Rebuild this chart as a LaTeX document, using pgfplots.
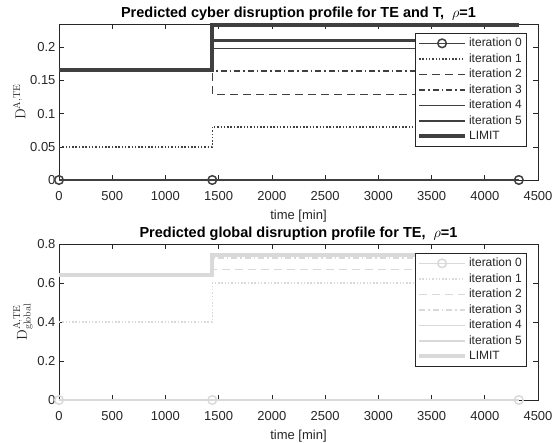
\documentclass[border=0pt]{standalone}
\usepackage[no-math]{fontspec}
\setmainfont{Liberation Sans}
\setsansfont{Liberation Sans}
\usepackage{pgfplots}
\pgfplotsset{compat=1.18}
\definecolor{axc}{RGB}{38,38,38}
\definecolor{dk}{RGB}{64,64,64}
\definecolor{lt}{RGB}{217,217,217}

\tikzset{
  it0/.style={line width=1.5pt, mark=o, mark size=4.3pt, mark options={solid, line width=1.5pt}},
  it1/.style={line width=1.5pt, dash pattern=on 1.5pt off 1.8pt},
  it2/.style={line width=1.5pt, dash pattern=on 8pt off 5pt},
  it3/.style={line width=1.5pt, dash pattern=on 6pt off 3pt on 1.5pt off 3pt},
  it4/.style={line width=1.6pt},
  it5/.style={line width=2.6pt},
  itL/.style={line width=4pt},
}

\pgfplotsset{
  legend image code/.code={\draw[mark repeat=2,mark phase=2,#1] plot coordinates {(0pt,0pt)(23pt,0pt)(46pt,0pt)};},
  mat/.style={
    scale only axis, width=479pt, height=156pt,
    xmin=0, xmax=4500, clip=false,
    axis line style={axc, line width=0.6pt},
    tick style={axc, line width=0.6pt},
    tick align=inside, major tick length=4.8pt,
    xtick={0,500,...,4500},
    xticklabels={0,500,1000,1500,2000,2500,3000,3500,4000,4500},
    ticklabel style={font=\fontsize{13}{15}\selectfont, text=axc},
    xticklabel style={yshift=-8pt},
    /pgf/number format/assume math mode=true,
    xlabel={time [min]},
    label style={font=\fontsize{13}{15}\selectfont, text=axc},
    xlabel style={yshift=-2pt},
    ylabel style={yshift=-2pt, font=\fontsize{14}{16}\selectfont},
    title style={font=\fontsize{14.5}{17}\selectfont\bfseries, text=black, yshift=-6pt},
    legend cell align=left,
    legend style={at={(0.975,0.94)}, anchor=north east, draw=axc, line width=0.5pt,
      fill=white, font=\fontsize{12}{14}\selectfont, inner xsep=2pt, inner ysep=2pt,
      nodes={inner sep=2pt, text height=9pt, text depth=2.5pt, text=axc}},
    const plot,
  },
}

\begin{document}
\begin{tikzpicture}
\begin{axis}[mat, at={(0pt,0pt)}, anchor=south west,
  ymin=0, ymax=0.235,
  ytick={0,0.05,0.1,0.15,0.2},
  yticklabels={0,0.05,0.1,0.15,0.2},
  ylabel={$\mathrm{D}^{\mathrm{A,TE}}$},
  title={Predicted cyber disruption profile for TE and T,\ \ $\rho$=1}]
\addplot[dk, it0] coordinates {(0,0) (1440,0) (4320,0)};
\addplot[dk, it1] coordinates {(0,0.05) (1440,0.08) (4320,0.08)};
\addplot[dk, it2] coordinates {(0,0.165) (1440,0.129) (4320,0.129)};
\addplot[dk, it3] coordinates {(0,0.165) (1440,0.1645) (4320,0.1645)};
\addplot[dk, it4] coordinates {(0,0.165) (1440,0.198) (4320,0.198)};
\addplot[dk, it5] coordinates {(0,0.165) (1440,0.210) (4320,0.210)};
\addplot[dk, itL] coordinates {(0,0.165) (1440,0.234) (4320,0.234)};
\legend{iteration 0, iteration 1, iteration 2, iteration 3, iteration 4, iteration 5, LIMIT}
\end{axis}

\begin{axis}[mat, at={(0pt,-220pt)}, anchor=south west,
  ymin=0, ymax=0.8,
  ytick={0,0.2,0.4,0.6,0.8},
  yticklabels={0,0.2,0.4,0.6,0.8},
  ylabel={$\mathrm{D}^{\mathrm{A,TE}}_{\mathrm{global}}$},
  title={Predicted global disruption profile for TE,\ \ $\rho$=1}]
\addplot[lt, it0] coordinates {(0,0) (1440,0) (4320,0)};
\addplot[lt, it1] coordinates {(0,0.4) (1440,0.6) (4320,0.6)};
\addplot[lt, it2] coordinates {(0,0.636) (1440,0.669) (4320,0.669)};
\addplot[lt, it3] coordinates {(0,0.642) (1440,0.727) (4320,0.727)};
\addplot[lt, it4] coordinates {(0,0.643) (1440,0.740) (4320,0.740)};
\addplot[lt, it5] coordinates {(0,0.643) (1440,0.742) (4320,0.742)};
\addplot[lt, itL] coordinates {(0,0.643) (1440,0.744) (4320,0.744)};
\legend{iteration 0, iteration 1, iteration 2, iteration 3, iteration 4, iteration 5, LIMIT}
\end{axis}
\pgfresetboundingbox
\useasboundingbox (-59pt,-263pt) rectangle (493pt,180pt);
\end{tikzpicture}
\end{document}
